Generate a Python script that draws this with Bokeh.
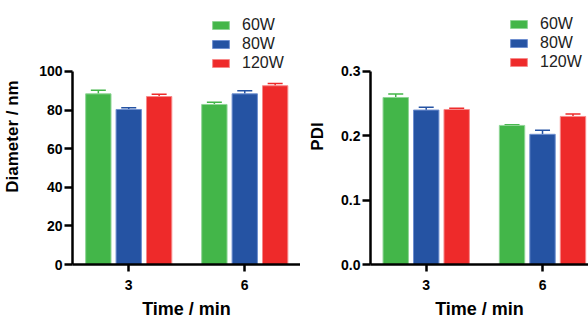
from bokeh.plotting import figure
from bokeh.models import ColumnDataSource, Whisker, TeeHead, Legend, LegendItem, FixedTicker, NumeralTickFormatter, Range1d
from bokeh.layouts import row
from bokeh.embed import file_html
from bokeh.resources import INLINE

times = [3, 6]
series = ["60W", "80W", "120W"]
colors = ["#43b649", "#2553a3", "#ee2a2a"]
edge_colors = ["#8fd596", "#6f8fd0", "#f78a8a"]

diam_60 = [88.4, 82.9]
diam_60_err = [1.8, 1.2]
diam_80 = [80.3, 88.4]
diam_80_err = [0.9, 1.6]
diam_120 = [87.0, 92.6]
diam_120_err = [1.2, 1.2]

pdi_60 = [0.259, 0.2157]
pdi_60_err = [0.0056, 0.0011]
pdi_80 = [0.2395, 0.2019]
pdi_80_err = [0.0045, 0.0061]
pdi_120 = [0.2404, 0.2296]
pdi_120_err = [0.0021, 0.0037]

y_ticks_diam = [0, 20, 40, 60, 80, 100]
y_ticks_pdi = [0.0, 0.1, 0.2, 0.3]

OFFSET = 0.786
BAR_W = 0.655
FONT = "Liberation Sans"


def make_panel(vals, errs, width, height, x_range, y_range, ybound, yticks, ylabel,
               border_left, border_bottom, legend_loc, fmt=None, label_standoff=14):
    p = figure(width=width, height=height, output_backend="svg", toolbar_location=None,
               x_range=Range1d(*x_range), y_range=Range1d(*y_range),
               min_border_left=border_left, min_border_right=0, min_border_top=8,
               min_border_bottom=border_bottom)
    p.outline_line_color = None
    p.xgrid.visible = False
    p.ygrid.visible = False
    items = []
    for i, (v, e) in enumerate(zip(vals, errs)):
        xs = [t + (i - 1) * OFFSET for t in times]
        src = ColumnDataSource(dict(x=xs, top=v, upper=[a + b for a, b in zip(v, e)]))
        r = p.vbar(x="x", top="top", width=BAR_W, bottom=0, source=src,
                   fill_color=colors[i], line_color=edge_colors[i], line_width=1)
        w = Whisker(base="x", lower="top", upper="upper", source=src, dimension="height",
                    line_color=colors[i], line_width=1.5, lower_head=None,
                    upper_head=TeeHead(size=15, line_color=colors[i], line_width=1.5))
        p.add_layout(w)
        items.append(LegendItem(label=series[i], renderers=[r]))
    leg = Legend(items=items, location=legend_loc, orientation="vertical",
                 glyph_width=21, glyph_height=10, label_height=10, label_standoff=11,
                 spacing=1, padding=0, margin=0, border_line_color=None,
                 background_fill_alpha=0,
                 label_text_font=FONT, label_text_font_size="16px", label_text_color="#222222")
    p.add_layout(leg, "center")

    xa = p.xaxis[0]
    xa.ticker = FixedTicker(ticks=times)
    xa.axis_label = "Time / min"
    xa.axis_line_width = 2.5
    xa.major_tick_line_width = 2.5
    xa.major_tick_out = 7
    xa.major_tick_in = 0
    xa.minor_tick_line_color = None
    xa.major_label_standoff = 8
    xa.axis_label_standoff = 6
    xa.major_label_text_font = FONT
    xa.major_label_text_font_style = "bold"
    xa.major_label_text_font_size = "14px"
    xa.axis_label_text_font = FONT
    xa.axis_label_text_font_style = "bold"
    xa.axis_label_text_font_size = "18px"
    xa.axis_label_text_color = "black"
    xa.major_label_text_color = "black"

    ya = p.yaxis[0]
    ya.ticker = FixedTicker(ticks=yticks)
    ya.bounds = ybound
    if fmt:
        ya.formatter = NumeralTickFormatter(format=fmt)
    ya.axis_label = ylabel
    ya.axis_line_width = 2.5
    ya.major_tick_line_width = 2.5
    ya.major_tick_out = 8
    ya.major_tick_in = 0
    ya.minor_tick_line_color = None
    ya.major_label_standoff = 2
    ya.axis_label_standoff = label_standoff
    ya.major_label_text_font = FONT
    ya.major_label_text_font_style = "bold"
    ya.major_label_text_font_size = "14px"
    ya.axis_label_text_font = FONT
    ya.axis_label_text_font_style = "bold"
    ya.axis_label_text_font_size = "17px"
    ya.axis_label_text_color = "black"
    ya.major_label_text_color = "black"
    return p


left = make_panel([diam_60, diam_80, diam_120], [diam_60_err, diam_80_err, diam_120_err],
                  300, 321, (1.546, 7.441), (0, 132.6), (0, 100), y_ticks_diam,
                  "Diameter / nm", 72, 57, (138, 192), label_standoff=14)
right = make_panel([pdi_60, pdi_80, pdi_120], [pdi_60_err, pdi_80_err, pdi_120_err],
                   288, 321, (1.563, 7.186), (0, 0.397), (0, 0.3), y_ticks_pdi,
                   "PDI", 70, 55, (138, 193), fmt="0.0", label_standoff=11)

layout = row(left, right)
open("out.html", "w").write(file_html(layout, INLINE))
